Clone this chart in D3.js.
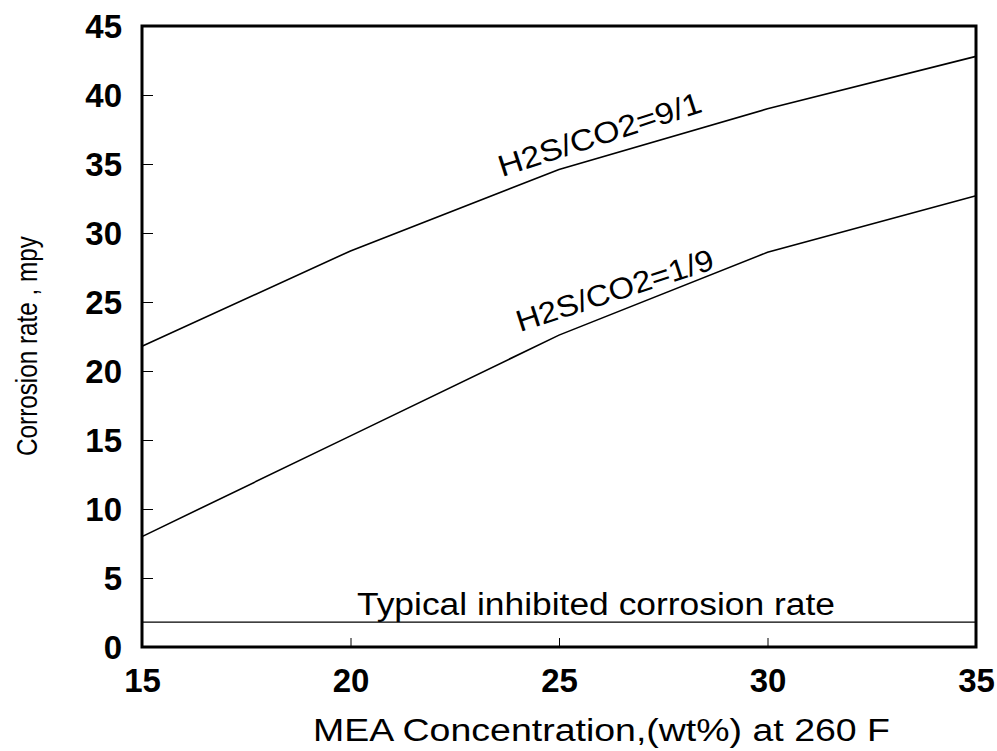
<!DOCTYPE html>
<html>
<head>
<meta charset="utf-8">
<script src="https://cdn.jsdelivr.net/npm/d3@7"></script>
<style>
  html, body { margin: 0; padding: 0; background: #fff; }
  svg { display: block; }
  text { font-family: "Liberation Sans", Arial, sans-serif; fill: #000; }
</style>
</head>
<body>
<svg id="chart" width="997" height="751"></svg>
<script>
// MEA concentration (wt%) and corrosion rates (mpy)
const concentration = [15, 20, 25, 30, 35];
const ratio91 = [21.8, 28.7, 34.6, 39.0, 42.8];
const ratio19 = [8.0, 15.3, 22.6, 28.6, 32.7];
const inhibitedRate = 1.8;
const xTicks = [15, 20, 25, 30, 35];
const yTicks = [0, 5, 10, 15, 20, 25, 30, 35, 40, 45];

const svg = d3.select("#chart");
const margin = { left: 142, right: 21, top: 26, bottom: 104 };
const W = 997, H = 751;

const x = d3.scaleLinear().domain([15, 35]).range([margin.left, W - margin.right]);
const y = d3.scaleLinear().domain([0, 45]).range([H - margin.bottom, margin.top]);

// tick marks point inward
svg.append("g")
  .attr("transform", `translate(0,${y(0)})`)
  .call(d3.axisBottom(x).tickValues(xTicks).tickSize(-9).tickPadding(22).tickFormat(d3.format("d")))
  .call(g => g.select(".domain").remove())
  .call(g => g.selectAll("line").attr("stroke-width", 1))
  .call(g => g.selectAll("text").attr("font-size", 33).attr("font-weight", "bold"));

svg.append("g")
  .attr("transform", `translate(${x(15)},0)`)
  .call(d3.axisLeft(y).tickValues(yTicks).tickSize(-11).tickPadding(20).tickFormat(d3.format("d")))
  .call(g => g.select(".domain").remove())
  .call(g => g.selectAll("line").attr("stroke-width", 1))
  .call(g => g.selectAll("text").attr("font-size", 33).attr("font-weight", "bold").attr("dy", "0.36em"));

// plot frame
svg.append("rect")
  .attr("x", x(15)).attr("y", y(45))
  .attr("width", x(35) - x(15)).attr("height", y(0) - y(45))
  .attr("fill", "none").attr("stroke", "#000").attr("stroke-width", 3);

const line = d3.line().x((d, i) => x(concentration[i])).y(d => y(d));

svg.append("path").datum(ratio91).attr("d", line)
  .attr("fill", "none").attr("stroke", "#000").attr("stroke-width", 1.6);
svg.append("path").datum(ratio19).attr("d", line)
  .attr("fill", "none").attr("stroke", "#000").attr("stroke-width", 1.6);

svg.append("line")
  .attr("x1", x(15)).attr("x2", x(35))
  .attr("y1", y(inhibitedRate)).attr("y2", y(inhibitedRate))
  .attr("stroke", "#000").attr("stroke-width", 1.4);

// curve annotations
svg.append("text")
  .attr("transform", "translate(502,177) rotate(-18)")
  .attr("font-size", 30)
  .attr("textLength", 212).attr("lengthAdjust", "spacingAndGlyphs")
  .text("H2S/CO2=9/1");

svg.append("text")
  .attr("transform", "translate(520,332) rotate(-18)")
  .attr("font-size", 30)
  .attr("textLength", 206).attr("lengthAdjust", "spacingAndGlyphs")
  .text("H2S/CO2=1/9");

svg.append("text")
  .attr("x", 357).attr("y", y(inhibitedRate) - 7)
  .attr("font-size", 31)
  .attr("textLength", 478).attr("lengthAdjust", "spacingAndGlyphs")
  .text("Typical inhibited corrosion rate");

// axis titles
svg.append("text")
  .attr("x", 313).attr("y", 741)
  .attr("font-size", 31)
  .attr("textLength", 577).attr("lengthAdjust", "spacingAndGlyphs")
  .text("MEA Concentration,(wt%) at 260 F");

svg.append("text")
  .attr("transform", "translate(37,456) rotate(-90)")
  .attr("font-size", 29)
  .attr("textLength", 220).attr("lengthAdjust", "spacingAndGlyphs")
  .text("Corrosion rate , mpy");
</script>
</body>
</html>
